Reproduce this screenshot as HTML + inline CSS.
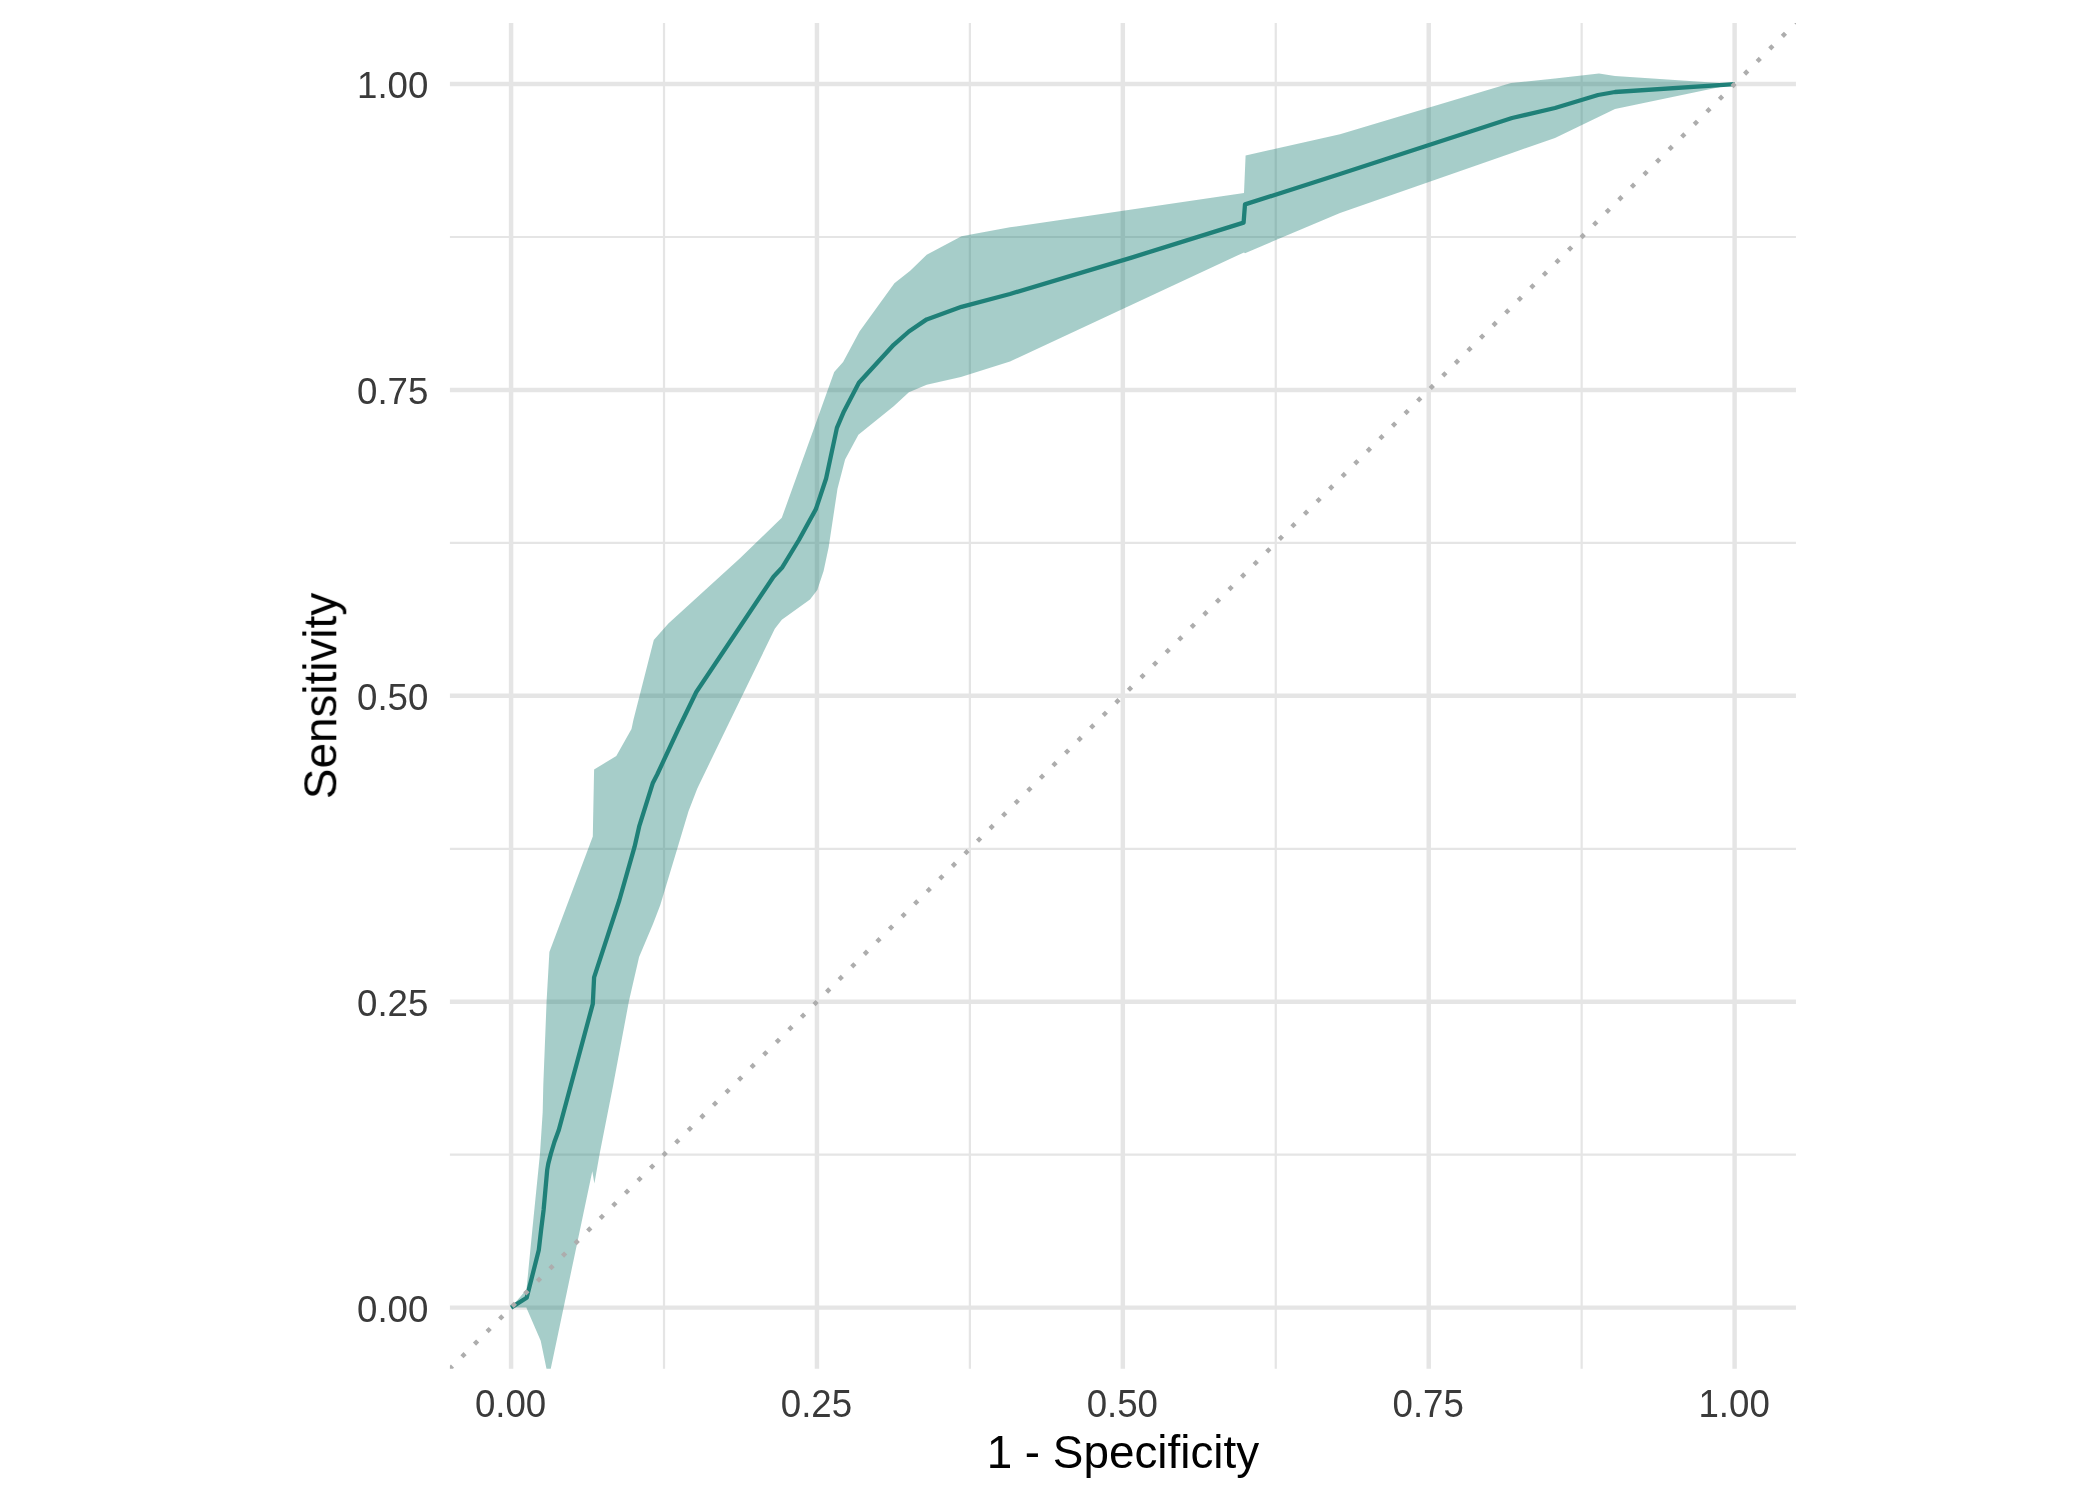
<!DOCTYPE html>
<html><head><meta charset="utf-8"><title>ROC</title>
<style>
html,body{margin:0;padding:0;background:#fff;}
svg{display:block;}
text{font-family:"Liberation Sans",sans-serif;}
.tk{font-size:36.67px;fill:#3a3a3a;}
.tt{font-size:45.83px;fill:#000;}
</style></head><body>
<svg width="2100" height="1500" viewBox="0 0 2100 1500">
<rect width="2100" height="1500" fill="#fff"/>
<defs><clipPath id="pc"><rect x="449.90" y="22.95" width="1346.05" height="1345.85"/></clipPath></defs>

<g stroke="#e5e5e5" fill="none" stroke-linecap="butt">
<line x1="449.9" x2="1795.95" y1="1154.66" y2="1154.66" stroke-width="2.22"/>
<line y1="22.95" y2="1368.8" x1="664.01" x2="664.01" stroke-width="2.22"/>
<line x1="449.9" x2="1795.95" y1="848.78" y2="848.78" stroke-width="2.22"/>
<line y1="22.95" y2="1368.8" x1="969.89" x2="969.89" stroke-width="2.22"/>
<line x1="449.9" x2="1795.95" y1="542.89" y2="542.89" stroke-width="2.22"/>
<line y1="22.95" y2="1368.8" x1="1275.78" x2="1275.78" stroke-width="2.22"/>
<line x1="449.9" x2="1795.95" y1="237.01" y2="237.01" stroke-width="2.22"/>
<line y1="22.95" y2="1368.8" x1="1581.66" x2="1581.66" stroke-width="2.22"/>
<line x1="449.9" x2="1795.95" y1="1307.60" y2="1307.60" stroke-width="4.45"/>
<line y1="22.95" y2="1368.8" x1="511.07" x2="511.07" stroke-width="4.45"/>
<line x1="449.9" x2="1795.95" y1="1001.72" y2="1001.72" stroke-width="4.45"/>
<line y1="22.95" y2="1368.8" x1="816.95" x2="816.95" stroke-width="4.45"/>
<line x1="449.9" x2="1795.95" y1="695.83" y2="695.83" stroke-width="4.45"/>
<line y1="22.95" y2="1368.8" x1="1122.84" x2="1122.84" stroke-width="4.45"/>
<line x1="449.9" x2="1795.95" y1="389.95" y2="389.95" stroke-width="4.45"/>
<line y1="22.95" y2="1368.8" x1="1428.72" x2="1428.72" stroke-width="4.45"/>
<line x1="449.9" x2="1795.95" y1="84.07" y2="84.07" stroke-width="4.45"/>
<line y1="22.95" y2="1368.8" x1="1734.60" x2="1734.60" stroke-width="4.45"/>
</g>
<g clip-path="url(#pc)">
<polygon points="511.1,1307.6 526.5,1289.4 532.3,1230.0 540.0,1153.6 542.7,1112.0 543.3,1085.0 546.6,1001.3 549.4,951.9 592.8,836.5 594.1,769.4 616.3,756.1 631.5,728.9 633.4,720.0 653.8,640.1 668.4,623.6 740.0,558.3 781.8,517.8 816.0,422.8 834.2,372.0 843.1,361.9 859.5,331.5 894.4,283.3 910.2,270.7 926.7,254.8 961.5,236.2 1010.0,227.3 1244.0,193.0 1245.6,155.6 1340.0,134.2 1511.0,83.0 1555.0,78.4 1599.0,73.6 1615.0,76.0 1734.6,84.1 1734.6,84.1 1615.0,109.0 1555.0,138.0 1512.0,153.0 1340.0,213.0 1245.0,253.2 1244.0,252.4 1010.0,361.6 960.9,377.1 926.7,384.7 908.9,392.3 893.7,406.3 858.4,434.8 845.1,459.5 837.5,488.7 828.7,546.9 823.6,571.0 817.3,590.0 810.0,599.5 781.8,619.8 774.8,628.7 727.5,726.0 697.3,788.4 688.5,811.2 677.1,849.2 660.3,905.0 653.0,924.1 639.1,957.0 628.9,1001.3 613.2,1085.0 599.7,1153.6 594.4,1183.5 592.3,1171.2 548.6,1379.0 540.7,1340.7 526.3,1307.5 511.1,1307.6" fill="#208278" fill-opacity="0.4"/>
<polyline points="511.1,1307.6 526.7,1297.8 538.8,1250.0 541.1,1230.0 543.6,1210.0 545.4,1190.0 547.2,1170.0 548.3,1163.6 550.8,1154.0 554.4,1142.0 558.8,1130.0 592.8,1003.9 594.1,977.3 619.4,900.0 634.6,846.7 639.2,826.4 652.7,783.3 657.2,774.5 677.9,730.0 696.3,692.0 773.5,576.7 782.4,567.2 798.9,540.0 816.0,508.9 826.1,478.5 836.9,427.9 843.9,411.4 858.9,382.8 893.7,344.8 908.9,331.5 926.7,319.4 961.5,306.8 1010.0,294.0 1131.6,257.6 1243.6,222.6 1245.0,204.4 1340.0,174.0 1512.0,118.0 1555.0,108.0 1598.0,95.0 1615.0,92.0 1734.6,84.1" fill="none" stroke="#1f8078" stroke-width="4.3" stroke-linejoin="round" stroke-linecap="butt"/>
<line x1="449.36" y1="1369.32" x2="1809.3600000000001" y2="9.319999999999936" stroke="#adadad" stroke-width="4.446" stroke-dasharray="4.446 13.338" stroke-linecap="butt"/>
</g>
<g opacity="0.999">
<text class="tk" transform="translate(428.4,1321.70) scale(1,1.03)" text-anchor="end">0.00</text>
<text class="tk" transform="translate(510.57,1416.6) scale(1,1.035)" text-anchor="middle">0.00</text>
<text class="tk" transform="translate(428.4,1015.82) scale(1,1.03)" text-anchor="end">0.25</text>
<text class="tk" transform="translate(816.45,1416.6) scale(1,1.035)" text-anchor="middle">0.25</text>
<text class="tk" transform="translate(428.4,709.93) scale(1,1.03)" text-anchor="end">0.50</text>
<text class="tk" transform="translate(1122.34,1416.6) scale(1,1.035)" text-anchor="middle">0.50</text>
<text class="tk" transform="translate(428.4,404.05) scale(1,1.03)" text-anchor="end">0.75</text>
<text class="tk" transform="translate(1428.22,1416.6) scale(1,1.035)" text-anchor="middle">0.75</text>
<text class="tk" transform="translate(428.4,98.17) scale(1,1.03)" text-anchor="end">1.00</text>
<text class="tk" transform="translate(1734.10,1416.6) scale(1,1.035)" text-anchor="middle">1.00</text>
<text class="tt" x="1122.9" y="1467.8" text-anchor="middle">1 - Specificity</text>
<text class="tt" transform="translate(336.3,695.9) rotate(-90)" text-anchor="middle">Sensitivity</text>
</g>
</svg></body></html>
